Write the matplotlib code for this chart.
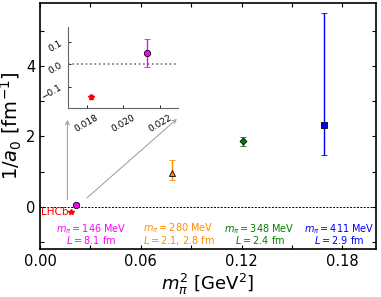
import matplotlib.pyplot as plt
import numpy as np
from matplotlib.ticker import MultipleLocator

# data: m_pi^2 [GeV^2], 1/a0 [fm^-1]
mpi2 = [0.0213, 0.0788, 0.1211, 0.1689]
inv_a0 = [0.05, 0.95, 1.87, 2.33]
err_lo = [0.06, 0.20, 0.13, 0.85]
err_hi = [0.065, 0.37, 0.12, 3.19]
colors = ['magenta', 'darkorange', 'green', 'blue']
markers = ['o', '^', 'D', 's']
msizes = [4.5, 5, 3.5, 5]

# LHCb point
lhcb_x = 0.01823
lhcb_y = -0.147
lhcb_err = 0.008

labels = [r'$m_\pi = 146$ MeV' + '\n' + r'$L = 8.1$ fm',
          r'$m_\pi = 280$ MeV' + '\n' + r'$L = 2.1,\,2.8$ fm',
          r'$m_\pi = 348$ MeV' + '\n' + r'$L = 2.4$ fm',
          r'$m_\pi = 411$ MeV' + '\n' + r'$L = 2.9$ fm']
label_x = [0.0303, 0.0826, 0.1307, 0.178]
label_y = -0.78

fig = plt.figure(figsize=(3.81, 2.97), dpi=100)
ax = fig.add_axes([0.105, 0.162, 0.882, 0.828])

ax.axhline(0, color='k', ls='--', lw=0.7, dashes=(2, 1.5))
for i in range(len(mpi2)):
    ax.errorbar(mpi2[i], inv_a0[i], yerr=[[err_lo[i]], [err_hi[i]]],
                fmt=markers[i], color=colors[i], mfc=colors[i], mec='k',
                mew=0.6, ms=msizes[i], capsize=2, elinewidth=1, capthick=0.8)
ax.errorbar(lhcb_x, lhcb_y, yerr=lhcb_err, fmt='*', color='red', ms=4,
            capsize=1)
ax.text(lhcb_x - 0.001, lhcb_y, 'LHCb', color='red', fontsize=7.5,
        ha='right', va='center')

for i in range(len(labels)):
    ax.text(label_x[i], label_y, labels[i], color=colors[i], fontsize=7,
            ha='center', va='center', linespacing=0.85)

ax.set_xlim(0, 0.2)
ax.set_ylim(-1.2, 5.8)
ax.set_xticks([0.0, 0.06, 0.12, 0.18])
ax.set_xticklabels(['0.00', '0.06', '0.12', '0.18'])
ax.xaxis.set_minor_locator(MultipleLocator(0.03))
ax.set_yticks([0, 2, 4])
ax.yaxis.set_minor_locator(MultipleLocator(1))
ax.tick_params(which='both', direction='in', top=True, right=True,
               labelsize=10.5, length=3, width=0.8)
ax.set_xlabel(r'$m_\pi^2$ [GeV$^2$]', fontsize=13, labelpad=2)
ax.set_ylabel(r'$1/a_0$ [fm$^{-1}$]', fontsize=14, labelpad=1)
for s in ax.spines.values():
    s.set_linewidth(1.2)

# arrows to the inset
ax.annotate('', xy=(0.0163, 2.55), xytext=(0.0163, 0.12),
            arrowprops=dict(arrowstyle='->', color='0.6', lw=0.7,
                            mutation_scale=7))
ax.annotate('', xy=(0.0827, 2.55), xytext=(0.0267, 0.2),
            arrowprops=dict(arrowstyle='->', color='0.6', lw=0.7,
                            mutation_scale=7))

# inset
ins = fig.add_axes([0.179, 0.637, 0.289, 0.273])
ins.axhline(0, color='0.45', ls=':', lw=1.2)
ins.errorbar(mpi2[0], inv_a0[0], yerr=[[err_lo[0]], [err_hi[0]]], fmt='o',
             color='magenta', mec='k', mew=0.6, ms=4.5, capsize=2,
             elinewidth=1, capthick=0.8)
ins.errorbar(lhcb_x, lhcb_y, yerr=lhcb_err, fmt='*', color='red', ms=4,
             capsize=1.5)
ins.set_xlim(0.017, 0.023)
ins.set_ylim(-0.195, 0.17)
ins.set_xticks([0.018, 0.020, 0.022])
ins.set_xticklabels(['0.018', '0.020', '0.022'])
ins.set_yticks([-0.1, 0.0, 0.1])
ins.set_yticklabels(['\u22120.1', '0.0', '0.1'])
ins.spines['top'].set_visible(False)
ins.spines['right'].set_visible(False)
for s in ['left', 'bottom']:
    ins.spines[s].set_color('0.4')
ins.tick_params(direction='in', labelsize=6.5, length=2.5, width=0.6)
for t in ins.get_xticklabels():
    t.set_rotation(30)
for t in ins.get_yticklabels():
    t.set_rotation(30)

fig.savefig('out.png', dpi=100)
